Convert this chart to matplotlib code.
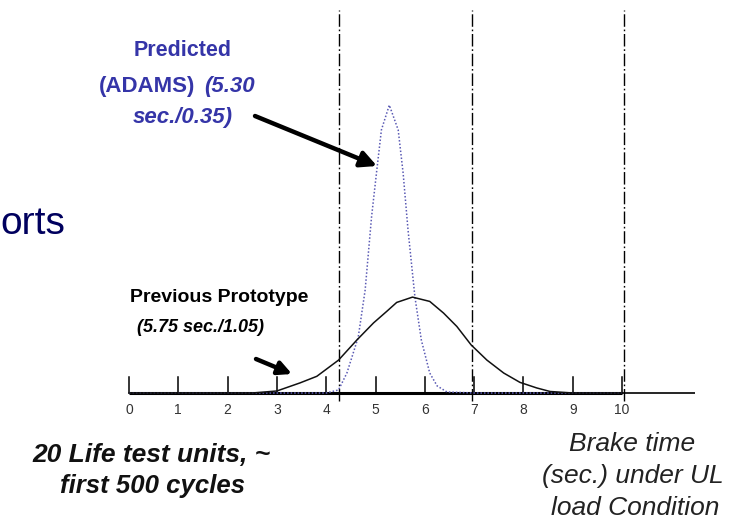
import matplotlib
matplotlib.use("Agg")
import matplotlib.pyplot as plt
from matplotlib.patches import FancyArrowPatch

W, H = 738, 522

# ---- data ----
tick_values = [0, 1, 2, 3, 4, 5, 6, 7, 8, 9, 10]
tick_labels = ["0", "1", "2", "3", "4", "5", "6", "7", "8", "9", "10"]
limit_lines = [4.25, 6.95, 10.05]

proto_x = [0, 2.5, 3.0, 3.47, 3.81, 4.25, 4.62, 4.96, 5.23, 5.43, 5.75, 6.1,
           6.38, 6.65, 6.94, 7.26, 7.6, 7.93, 8.27, 8.54, 9.0, 10.0]
proto_y = [0, 0, 0.008, 0.040, 0.066, 0.130, 0.209, 0.277, 0.323, 0.358, 0.379,
           0.362, 0.316, 0.263, 0.190, 0.130, 0.079, 0.042, 0.020, 0.006, 0, 0]

pred_x = [0, 4.0, 4.25, 4.42, 4.65, 4.79, 4.92, 5.02, 5.12, 5.28, 5.46, 5.56,
          5.66, 5.8, 5.93, 6.1, 6.25, 6.45, 7.0, 10.0]
pred_y = [0, 0, 0.012, 0.079, 0.221, 0.407, 0.696, 0.870, 1.040, 1.138, 1.040,
          0.870, 0.644, 0.379, 0.209, 0.079, 0.028, 0.004, 0, 0]

# ---- layout ----
X0, PXU = 129.0, 49.3      # pixel of x=0, pixels per second
Y0, PYU = 393.0, 253.0     # baseline pixel, pixels per density unit

fig = plt.figure(figsize=(W / 100, H / 100), dpi=100)
ax = fig.add_axes([0, 0, 1, 1])
ax.set_xlim(-X0 / PXU, (W - X0) / PXU)
ax.set_ylim(-(H - Y0) / PYU, Y0 / PYU)
ax.axis("off")

FONT = ["Liberation Sans", "DejaVu Sans"]

# axis line
ax.plot([0, (695 - X0) / PXU], [0, 0], color="black", lw=1.2, solid_capstyle="butt")
ax.plot([0, 10], [0, 0], color="black", lw=2.2, solid_capstyle="butt")
# ticks
for t, lab in zip(tick_values, tick_labels):
    ax.plot([t, t], [0, 16 / PYU], color="black", lw=1.1)
    ax.text(t, -17 / PYU, lab, ha="center", va="center", fontsize=10,
            color="#333333", family=["Liberation Sans Narrow", "Liberation Sans"])

# dash-dot limit lines
for xv in limit_lines:
    ax.plot([xv, xv], [-8 / PYU, (Y0 - 10) / PYU], color="black", lw=1.0,
            dashes=(9, 2, 1.2, 2))

# curves
ax.plot(pred_x, pred_y, color="#5a5ab4", lw=1.1, linestyle=(0, (1, 1.3)))
ax.plot(proto_x, proto_y, color="#111111", lw=1.1)


def ptext(x, y, s, **kw):
    kw.setdefault("family", FONT)
    fig.text(x / W, 1 - y / H, s, **kw)


def parrow(x1, y1, x2, y2, ms=24):
    a = FancyArrowPatch((x1 / W, 1 - y1 / H), (x2 / W, 1 - y2 / H),
                        transform=fig.transFigure, arrowstyle="-|>",
                        mutation_scale=ms, lw=3.2, color="black",
                        shrinkA=0, shrinkB=0)
    fig.patches.append(a)


blue = "#3535a8"
ptext(183, 51, "Predicted", ha="center", va="center", fontsize=15.5,
      fontweight="bold", color=blue)
ptext(99, 86, "(ADAMS)", ha="left", va="center", fontsize=16,
      fontweight="bold", color=blue)
ptext(204, 86, "(5.30", ha="left", va="center", fontsize=16,
      fontweight="bold", style="italic", color=blue)
ptext(183, 118, "sec./0.35)", ha="center", va="center", fontsize=16,
      fontweight="bold", style="italic", color=blue)
parrow(255, 116, 377, 166)

ptext(0, 224, "orts", ha="left", va="center", fontsize=28, color="#00005e")

ptext(130, 297, "Previous Prototype", ha="left", va="center", fontsize=14,
      fontweight="bold", color="black")
ptext(137, 328, "(5.75 sec./1.05)", ha="left", va="center", fontsize=13,
      fontweight="bold", style="italic", color="black")
parrow(256, 359, 292, 374, ms=20)

ptext(151, 455, "20 Life test units, ~", ha="center", va="center", fontsize=19,
      fontweight="bold", style="italic", color="#111111")
ptext(153, 486, "first 500 cycles", ha="center", va="center", fontsize=18.5,
      fontweight="bold", style="italic", color="#111111")

ptext(632, 444, "Brake time", ha="center", va="center", fontsize=19,
      style="italic", color="#222222")
ptext(633, 476, "(sec.) under UL", ha="center", va="center", fontsize=19,
      style="italic", color="#222222")
ptext(635, 508, "load Condition", ha="center", va="center", fontsize=19,
      style="italic", color="#222222")

fig.savefig("out.png", dpi=100)
